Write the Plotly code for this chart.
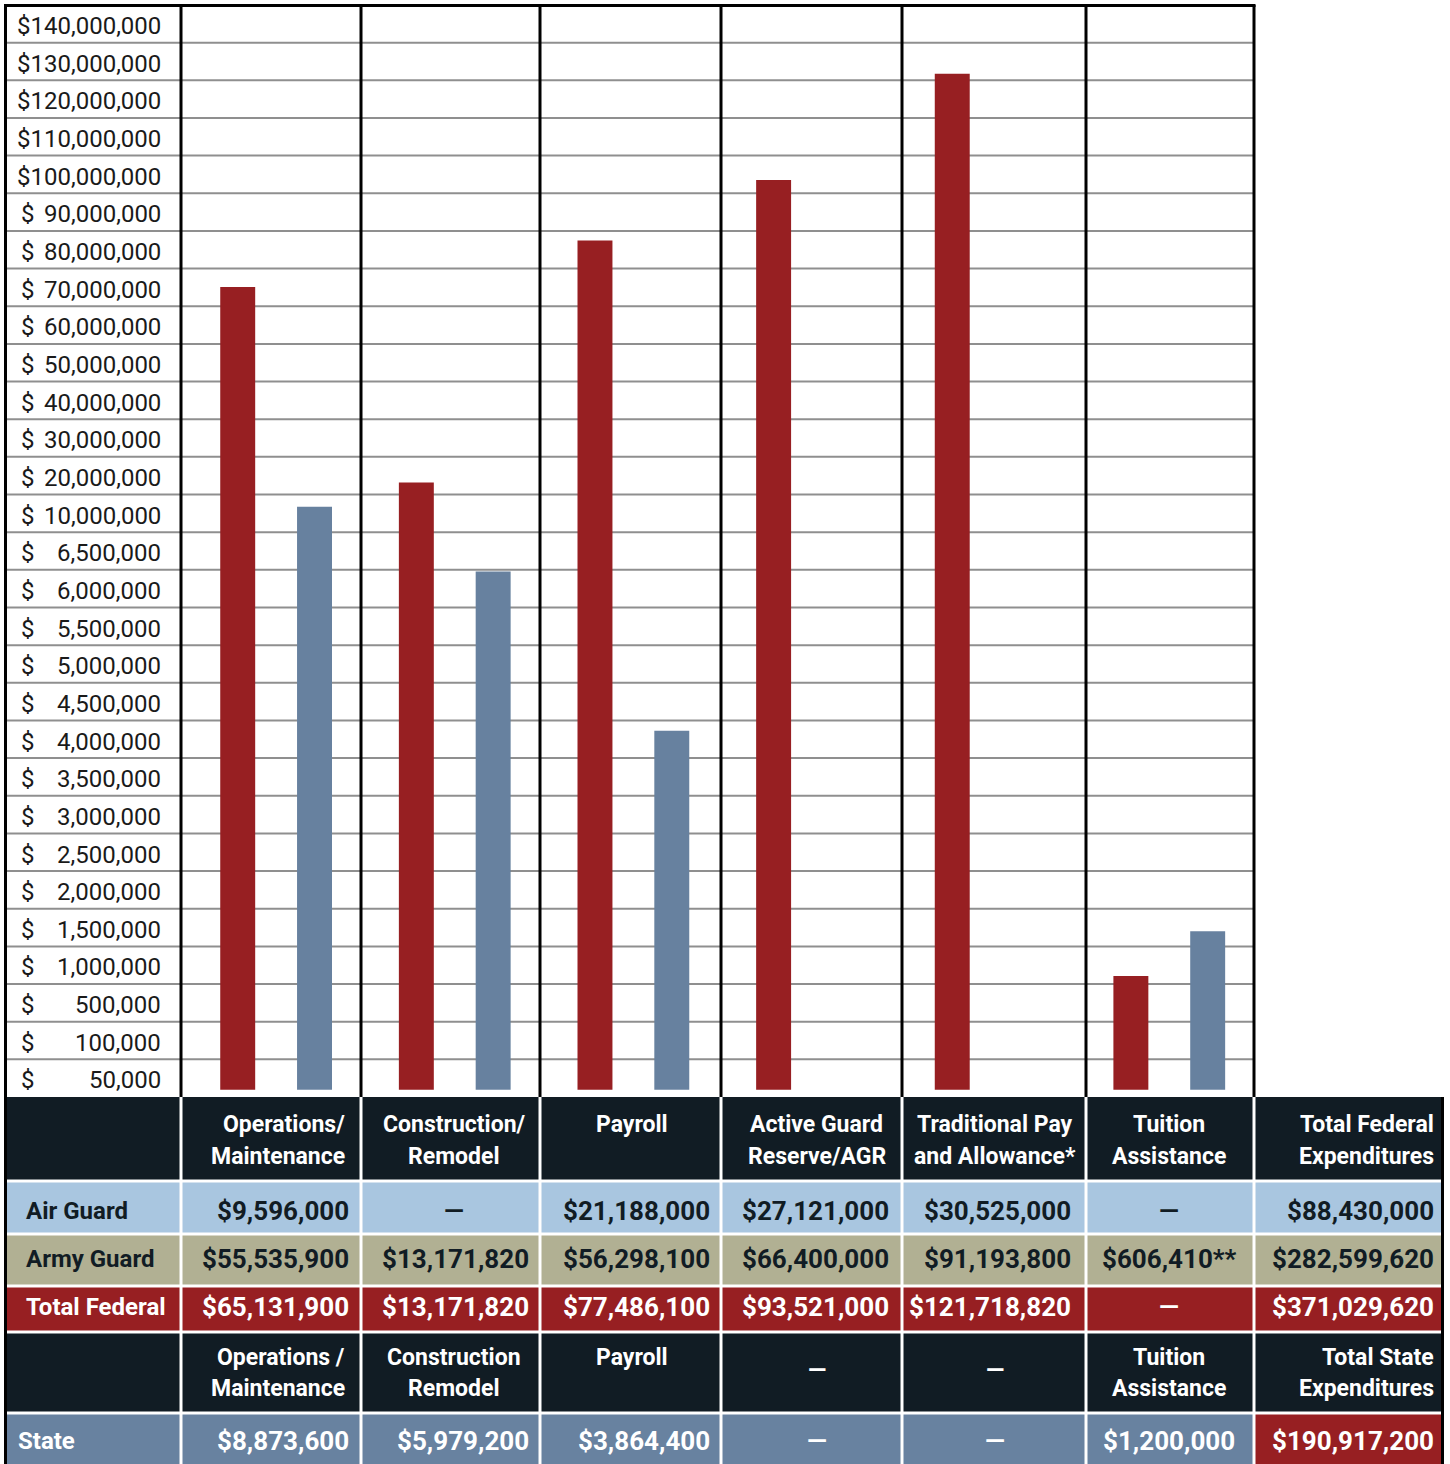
import numpy as np
import plotly.graph_objects as go

W, H = 1450, 1464

# ---------------- data ----------------
categories = ["Operations/Maintenance", "Construction/Remodel", "Payroll",
              "Active Guard Reserve/AGR", "Traditional Pay and Allowance", "Tuition Assistance"]
federal_bar_values = [65131900, 13171820, 77486100, 93521000, 121718820, 606410]
state_bar_values = [8873600, 5979200, 3864400, None, None, 1200000]

tick_values = [50000, 100000, 500000, 1000000, 1500000, 2000000, 2500000, 3000000,
               3500000, 4000000, 4500000, 5000000, 5500000, 6000000, 6500000,
               10000000, 20000000, 30000000, 40000000, 50000000, 60000000, 70000000,
               80000000, 90000000, 100000000, 110000000, 120000000, 130000000, 140000000]
tick_labels = [f"{v:,}" for v in tick_values]

header1 = ["", "Operations/\nMaintenance", "Construction/\nRemodel", "Payroll",
           "Active Guard\nReserve/AGR", "Traditional Pay\nand Allowance*",
           "Tuition\nAssistance", "Total Federal\nExpenditures"]
air_guard = ["Air Guard", "$9,596,000", "\u2014", "$21,188,000", "$27,121,000",
             "$30,525,000", "\u2014", "$88,430,000"]
army_guard = ["Army Guard", "$55,535,900", "$13,171,820", "$56,298,100", "$66,400,000",
              "$91,193,800", "$606,410**", "$282,599,620"]
total_federal = ["Total Federal", "$65,131,900", "$13,171,820", "$77,486,100",
                 "$93,521,000", "$121,718,820", "\u2014", "$371,029,620"]
header2 = ["", "Operations /\nMaintenance", "Construction\nRemodel", "Payroll",
           "\u2014", "\u2014", "Tuition\nAssistance", "Total State\nExpenditures"]
state_row = ["State", "$8,873,600", "$5,979,200", "$3,864,400", "\u2014", "\u2014",
             "$1,200,000", "$190,917,200"]

# ---------------- styles ----------------
RED = "#971f22"
BLUE = "#67819f"
NAVY = "#111c24"
LIGHTBLUE = "#a9c6e0"
KHAKI = "#b1b093"
SLATE = "#6882a0"
GRID = "#8f8f8f"
FONT = "Roboto, Liberation Sans, sans-serif"

def px(x):
    return x / W

def py(y):
    return 1 - y / H

# piecewise tick scale: tick i sits at the top of row i (row 0 at bottom)
positions = np.arange(1, len(tick_values) + 1)
BASE = 0.19

def to_pos(v):
    if v is None:
        return None
    return float(np.interp(v, tick_values, positions)) - BASE

fig = go.Figure()
fig.add_trace(go.Bar(x=categories, y=[to_pos(v) for v in federal_bar_values], base=BASE,
                     marker=dict(color=RED, line=dict(width=0)), name="Total Federal"))
fig.add_trace(go.Bar(x=categories, y=[to_pos(v) for v in state_bar_values], base=BASE,
                     marker=dict(color=BLUE, line=dict(width=0)), name="State"))

shapes = []
annotations = []

# horizontal grid lines across the label column and the chart
for k in range(1, len(tick_values)):
    shapes.append(dict(type="line", xref="paper", yref="y", x0=px(5), x1=px(1254),
                       y0=k, y1=k, line=dict(color=GRID, width=2), layer="below"))

# y labels
YFONT = dict(family=FONT, size=24, color="#1a1a1a")
LABEL_Y = 0.44
for i, lab in enumerate(tick_labels):
    if len(lab) > 10:
        annotations.append(dict(xref="paper", yref="y", x=px(163), y=i + LABEL_Y, text="$" + lab,
                                showarrow=False, xanchor="right", yanchor="middle", font=YFONT))
    else:
        annotations.append(dict(xref="paper", yref="y", x=px(19), y=i + LABEL_Y, text="$",
                                showarrow=False, xanchor="left", yanchor="middle", font=YFONT))
        annotations.append(dict(xref="paper", yref="y", x=px(163), y=i + LABEL_Y, text=lab,
                                showarrow=False, xanchor="right", yanchor="middle", font=YFONT))

# table
col_edges = [6, 181, 361, 540, 721, 902, 1086, 1254, 1442]
row_edges = [1097, 1181, 1234, 1286, 1332, 1413, 1466]
rows = [header1, air_guard, army_guard, total_federal, header2, state_row]
row_fill = [NAVY, LIGHTBLUE, KHAKI, RED, NAVY, SLATE]
row_text = ["white", NAVY, NAVY, "white", "white", "white"]

for r in range(len(rows)):
    for c in range(len(col_edges) - 1):
        x0 = col_edges[c] + (0 if c == 0 else 1.5)
        x1 = col_edges[c + 1] - (0 if c == len(col_edges) - 2 else 1.5)
        y0 = row_edges[r] + (0 if r == 0 else 1.5)
        y1 = row_edges[r + 1] - 1.5
        fill = row_fill[r]
        if r == 5 and c == len(col_edges) - 2:
            fill = RED
        shapes.append(dict(type="rect", xref="paper", yref="paper",
                           x0=px(x0), x1=px(x1), y0=py(y0), y1=py(y1),
                           fillcolor=fill, line=dict(width=0), layer="above"))

# chart borders and column lines
shapes.append(dict(type="line", xref="paper", yref="paper", x0=px(5.5), x1=px(5.5),
                   y0=py(4), y1=py(1466), line=dict(color="black", width=3)))
shapes.append(dict(type="line", xref="paper", yref="paper", x0=px(4), x1=px(1255.5),
                   y0=py(5.5), y1=py(5.5), line=dict(color="black", width=3)))
shapes.append(dict(type="line", xref="paper", yref="paper", x0=px(1442.5), x1=px(1442.5),
                   y0=py(1097), y1=py(1466), line=dict(color="black", width=3)))
for e in col_edges[1:-1]:
    shapes.append(dict(type="line", xref="paper", yref="paper", x0=px(e), x1=px(e),
                       y0=py(5), y1=py(1097), line=dict(color="black", width=3)))

# table text
header_anchor = [("left", 24), ("right", 347), ("center", 454), ("center", 632),
                 ("center", 817), ("center", 995), ("center", 1169), ("right", 1436)]
value_anchor = [("left", 24), ("right", 351), ("center", 455), ("right", 712),
                ("right", 891), ("right", 1073), ("center", 1169), ("right", 1436)]
row_center = {1: 1211, 2: 1259, 3: 1307, 5: 1441}
header_lines = {0: (1124, 1156), 4: (1357, 1388)}
DASH = "\u2014"

for r, row in enumerate(rows):
    for c, txt in enumerate(row):
        if not txt:
            continue
        if r in header_lines:
            anc, x = header_anchor[c]
            lines = txt.split("\n")
            if txt == DASH:
                ys = [(header_lines[r][0] + header_lines[r][1]) / 2 - 3]
                size = 24
            else:
                ys = header_lines[r][:len(lines)]
                size = 23
            for line, yv in zip(lines, ys):
                annotations.append(dict(xref="paper", yref="paper", x=px(x), y=py(yv),
                                        text=f"<b>{line}</b>", showarrow=False,
                                        xanchor=anc, yanchor="middle",
                                        font=dict(family=FONT, size=size, color="white")))
        else:
            anc, x = value_anchor[c]
            if txt == DASH:
                anc = "center"
                x = header_anchor[c][1] if header_anchor[c][0] == "center" else (col_edges[c] + col_edges[c + 1]) / 2
            if c == 0 and r == 5:
                x = 16
            if r == 5 and c == 2:
                anc, x = "right", 531
            size = 24 if c == 0 else 26
            annotations.append(dict(xref="paper", yref="paper", x=px(x), y=py(row_center[r]),
                                    text=f"<b>{txt}</b>", showarrow=False,
                                    xanchor=anc, yanchor="middle",
                                    font=dict(family=FONT, size=size, color=row_text[r])))

fig.update_layout(
    width=W, height=H,
    margin=dict(l=0, r=0, t=0, b=0),
    paper_bgcolor="white", plot_bgcolor="white",
    showlegend=False,
    barmode="group", bargap=0.14, bargroupgap=0.545,
    xaxis=dict(domain=[px(186.8), px(1258.6)], range=[-0.5, 5.5], showticklabels=False,
               showgrid=False, zeroline=False, showline=False, ticks=""),
    yaxis=dict(domain=[py(1097), py(5)], range=[0, len(tick_values)], showticklabels=False,
               showgrid=False, zeroline=False, showline=False, ticks=""),
    shapes=shapes,
    annotations=annotations,
)

fig.write_html("out.html", config={"displayModeBar": False},
               post_script="document.body.style.margin='0';document.body.style.padding='0';")
